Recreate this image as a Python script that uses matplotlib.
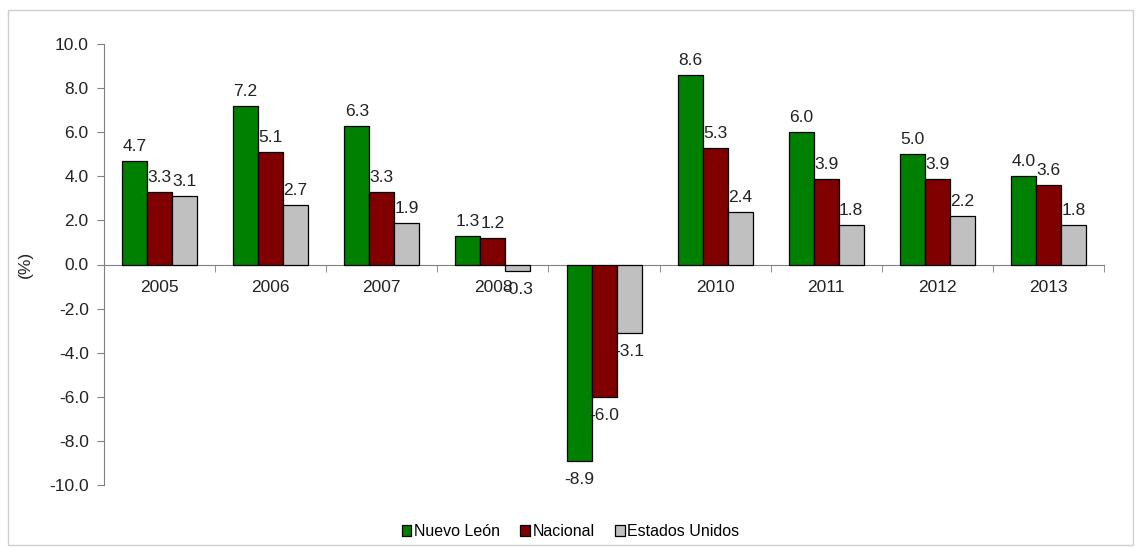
import matplotlib.pyplot as plt
import numpy as np
from matplotlib.patches import Rectangle

# Data
years = ["2005", "2006", "2007", "2008", "2009", "2010", "2011", "2012", "2013"]
nuevo_leon = [4.7, 7.2, 6.3, 1.3, -8.9, 8.6, 6.0, 5.0, 4.0]
nacional = [3.3, 5.1, 3.3, 1.2, -6.0, 5.3, 3.9, 3.9, 3.6]
estados_unidos = [3.1, 2.7, 1.9, -0.3, -3.1, 2.4, 1.8, 2.2, 1.8]
series_names = ["Nuevo León", "Nacional", "Estados Unidos"]
colors = ["#008000", "#800000", "#C0C0C0"]

plt.rcParams['font.family'] = ['Liberation Sans', 'DejaVu Sans']
fs = 12.5
txt = "#222222"

fig = plt.figure(figsize=(11.41, 5.48), dpi=100)
ax = fig.add_axes([104 / 1141, 1 - 485 / 548, 1000 / 1141, 441 / 548])

# Outer frame
fig.patches.append(Rectangle((8 / 1141, 3 / 548), 1125 / 1141, 535 / 548,
                             transform=fig.transFigure, fill=False,
                             edgecolor="#D0D0D0", linewidth=1))

x = np.arange(len(years))
w = 0.225
all_series = [nuevo_leon, nacional, estados_unidos]
for k, (vals, name, c) in enumerate(zip(all_series, series_names, colors)):
    pos = x + (k - 1) * w
    ax.bar(pos, vals, width=w, color=c, edgecolor="black", linewidth=0.9,
           label=name, zorder=3)
    for xi, v in zip(pos, vals):
        if v >= 0:
            ax.annotate(f"{v:.1f}", (xi, v), xytext=(0, 5), textcoords="offset points",
                        ha="center", va="bottom", fontsize=fs, color=txt)
        else:
            ax.annotate(f"{v:.1f}", (xi, v), xytext=(0, -8), textcoords="offset points",
                        ha="center", va="top", fontsize=fs, color=txt)

ax.set_xlim(-0.5, len(years) - 0.5)
ax.set_ylim(-10, 10)
yt = np.arange(-10, 10.1, 2)
ax.set_yticks(yt)
ax.set_yticklabels([f"{t:.1f}" for t in yt], fontsize=fs, color=txt)

# x axis at zero
ax.spines['bottom'].set_position(('data', 0))
ax.spines['bottom'].set_color("#808080")
ax.spines['left'].set_color("#808080")
ax.spines['top'].set_visible(False)
ax.spines['right'].set_visible(False)
ax.set_xticks(x)
ax.set_xticklabels(years, fontsize=fs, color=txt)
ax.tick_params(axis='x', length=0, pad=11)
ax.set_xticks(np.arange(-0.5, len(years), 1), minor=True)
ax.tick_params(axis='x', which='minor', length=5, color="#808080", direction='out')
ax.tick_params(axis='y', length=5, color="#808080", pad=6)

ax.set_ylabel("(%)", fontsize=fs, color=txt, labelpad=12)

fig.legend(loc="lower center", bbox_to_anchor=(0.5, -0.01), ncol=3, frameon=False,
           fontsize=11.5, handlelength=0.6, handleheight=0.6, handletextpad=0.15,
           columnspacing=1.3)

fig.savefig("out.png", dpi=100)
